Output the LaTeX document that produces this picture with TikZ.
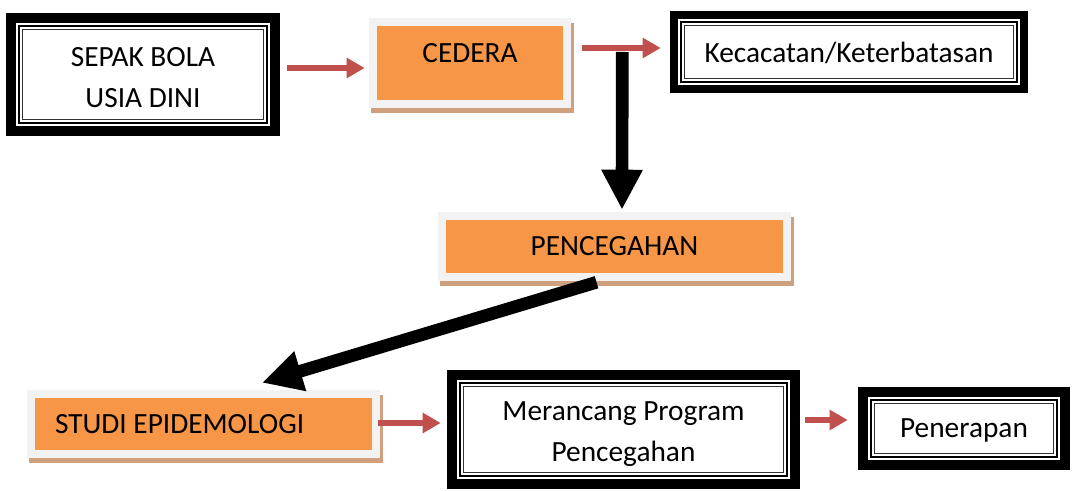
\documentclass[tikz,border=0pt]{standalone}
\usepackage{fontspec}
\setmainfont{Carlito}
\usetikzlibrary{arrows.meta,backgrounds}
\definecolor{boxorange}{HTML}{F79646}
\definecolor{boxgray}{HTML}{F2F2F2}
\definecolor{boxtan}{HTML}{CFA07E}
\definecolor{arrowred}{HTML}{C0504D}
\begin{document}
\begin{tikzpicture}[x=0.75pt,y=-0.75pt,
  every node/.style={font=\fontsize{22}{30.75}\selectfont, inner sep=0pt},
  framedbox/.style={align=center},
  orangebox/.style={fill=boxorange},
  redarrow/.style={draw=arrowred, line width=4.8pt, -{Triangle[width=14.5pt,length=13.5pt]}},
  blackarrow/.style={draw=black, line width=9.5pt, -{Triangle[width=29pt,length=30pt]}}
]
\useasboundingbox (0,0) rectangle (1073,491);

% framed boxes (text sits slightly below the frame centre)
\node[framedbox, minimum width=205.5pt, minimum height=92.25pt] (sepak) at (143,77.5) {SEPAK BOLA\\USIA DINI};
\node[framedbox, minimum width=268.5pt, minimum height=61.5pt] (kec) at (849,53) {Kecacatan/Keterbatasan};
\node[framedbox, minimum width=264.75pt, minimum height=89.25pt] (meran) at (623.5,434.5) {Merancang Program\\Pencegahan};
\node[framedbox, minimum width=159pt, minimum height=62.25pt] (pener) at (964,430.5) {Penerapan};

\foreach \n/\t/\o in {sepak/10/3,kec/8/1,meran/10/5,pener/10/2}{
  \pgfmathsetmacro{\h}{\t/2}
  \pgfmathsetmacro{\a}{\t+3}
  \pgfmathsetmacro{\b}{\t+6.5}
  \draw[line width=\t*0.75pt] ([shift={(\h,\h-\o)}]\n.north west) rectangle ([shift={(-\h,-\h-\o)}]\n.south east);
  \draw[line width=1.5pt] ([shift={(\a,\a-\o)}]\n.north west) rectangle ([shift={(-\a,-\a-\o)}]\n.south east);
  \draw[line width=1pt, black!80] ([shift={(\b,\b-\o)}]\n.north west) rectangle ([shift={(-\b,-\b-\o)}]\n.south east);
}

% orange boxes
\node[orangebox, minimum width=139.5pt, minimum height=55.5pt, text height=10pt, text depth=10pt] (cedera) at (470,63) {CEDERA};
\node[orangebox, minimum width=252.75pt, minimum height=39.75pt] (pencegahan) at (614.5,246.5) {PENCEGAHAN};
\node[orangebox, minimum width=252.75pt, minimum height=39pt] (studi) at (203.5,424) {\makebox[222.75pt][l]{STUDI EPIDEMOLOGI}};

\begin{scope}[on background layer]
\foreach \n in {cedera,pencegahan,studi}{
  \fill[boxtan] ([shift={(-5.5,-3)}]\n.north west) rectangle ([shift={(10.5,13)}]\n.south east);
  \fill[boxgray] ([shift={(-8,-8)}]\n.north west) rectangle ([shift={(8,8)}]\n.south east);
}
\end{scope}

% red connectors
\draw[redarrow] ([shift={(7,-9.5)}]sepak.east) -- ([shift={(-12,5)}]cedera.west);
\draw[redarrow] ([shift={(19,-15)}]cedera.east) -- ([shift={(-9,-5)}]kec.west);
\draw[redarrow] ([shift={(6,-1)}]studi.east) -- ([shift={(-6,-11.5)}]meran.west);
\draw[redarrow] ([shift={(5,-14.5)}]meran.east) -- ([shift={(-10,-10.5)}]pener.west);

% black connectors
\draw[blackarrow] ([shift={(59,-11)}]cedera.east) -- ([shift={(7.5,-10)}]pencegahan.north);
\draw[blackarrow] ([shift={(-18,9)}]pencegahan.south) -- ([shift={(58.5,-15)}]studi.north);
\end{tikzpicture}
\end{document}
